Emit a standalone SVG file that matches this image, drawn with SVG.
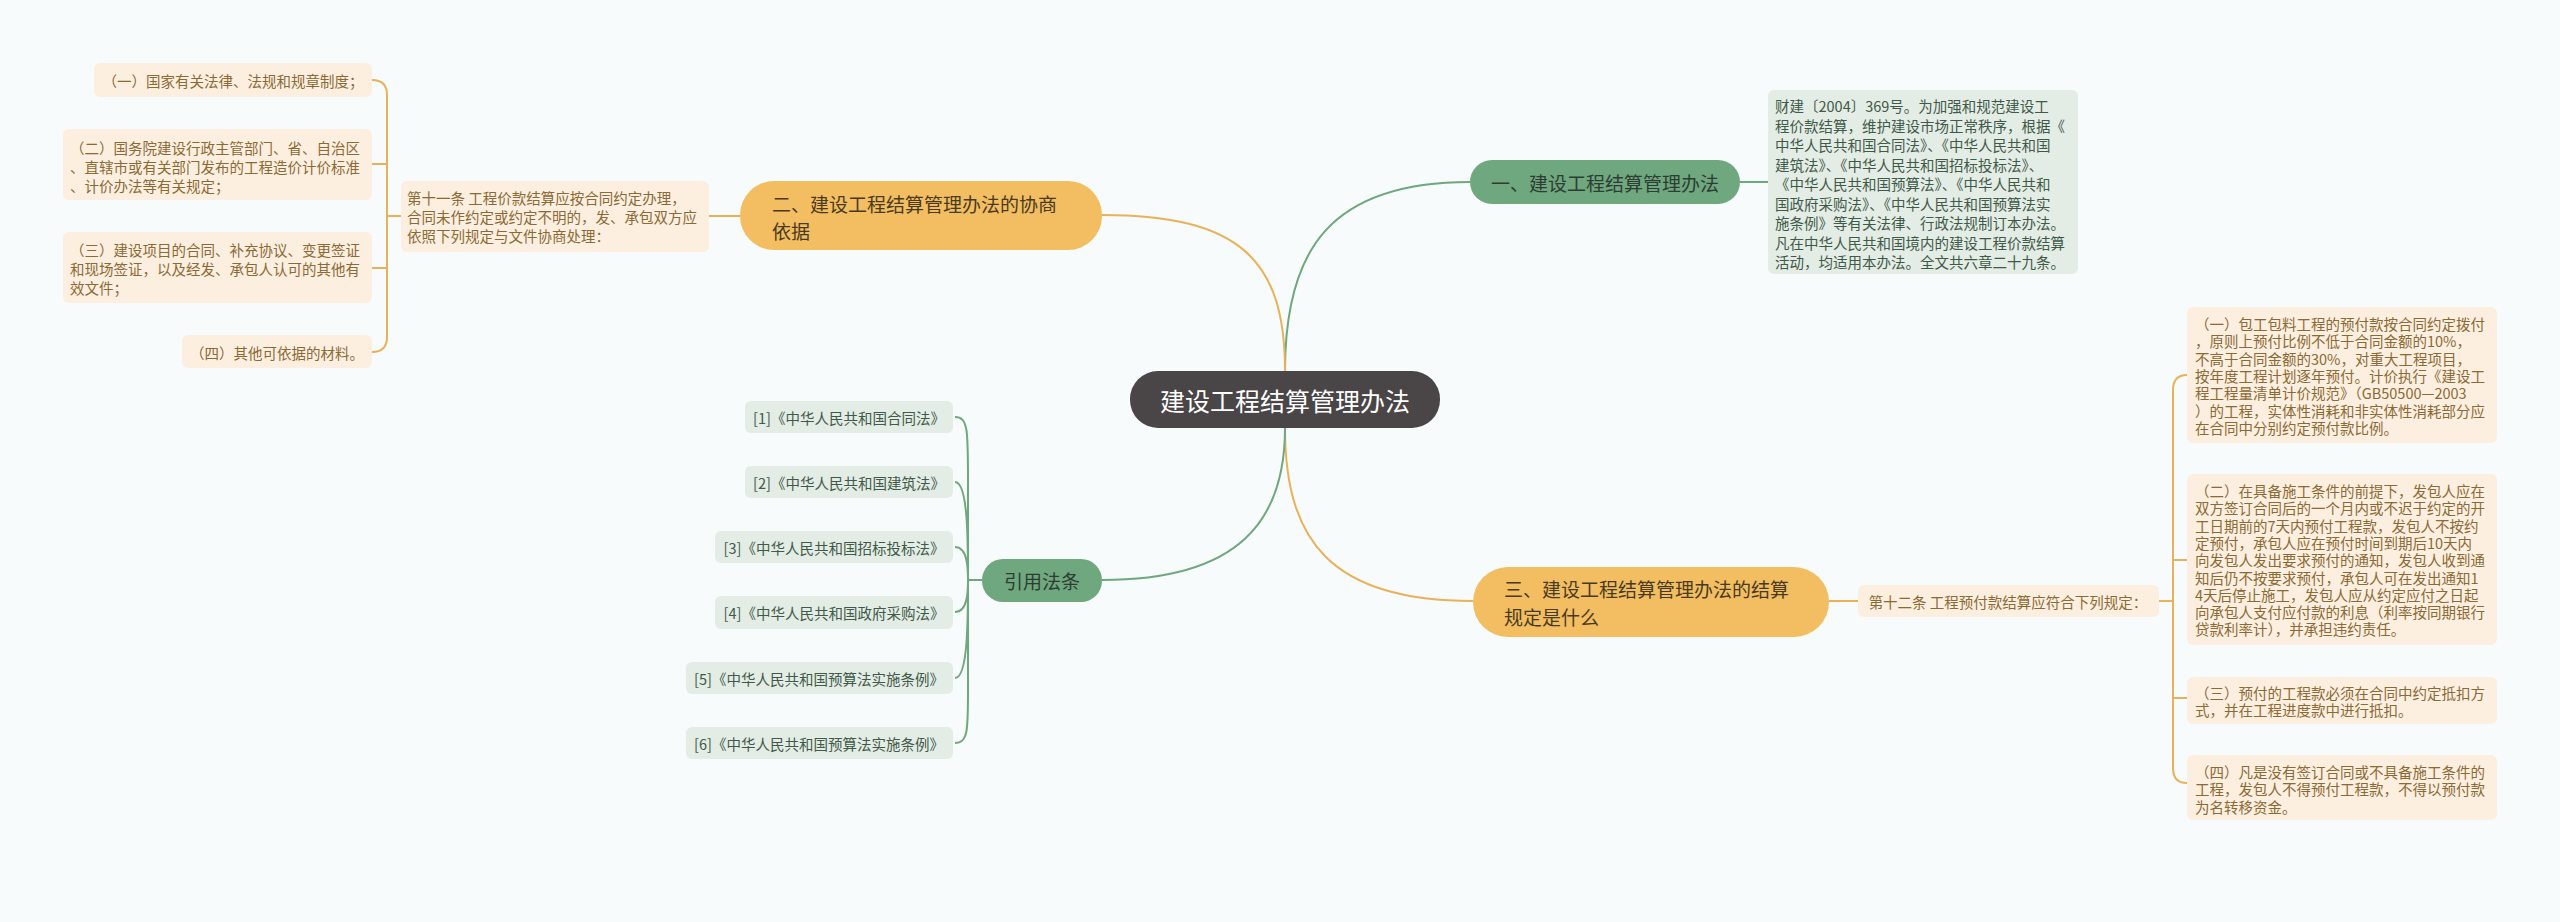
<svg xmlns="http://www.w3.org/2000/svg" width="2560" height="922" viewBox="0 0 2560 922">
<style>
text{font-family:"Noto Sans CJK SC","Noto Sans",sans-serif;dominant-baseline:central}
.s{font-size:14.5px}
.g{fill:#3f5a48}
.o{fill:#8a6a35}
.bg{fill:#e3ece5}
.bo{fill:#fcefe0}
.lg{fill:none;stroke:#6fa77f;stroke-width:2}
.lo{fill:none;stroke:#e9b25a;stroke-width:2}
</style>
<rect width="2560" height="922" fill="#f7fbfb"/>
<g id="connectors">
<path class="lg" d="M1285,371 C1285,250 1330,182 1470,182"/>
<path class="lo" d="M1285,371 C1285,260 1240,215 1102,215"/>
<path class="lo" d="M1285,428 C1285,540 1330,601 1473,601"/>
<path class="lg" d="M1285,428 C1285,520 1240,580 1102,580"/>
<path class="lg" d="M1740,182 L1768,182"/>
<path class="lo" d="M740,216 L709,216"/>
<path class="lo" d="M401,216 L387,216 M372,80 Q387,80 387,95 L387,337 Q387,352 372,352 M387,164 Q387,164 372,164 M387,268 L372,268"/>
<path class="lo" d="M1829,601 L1858,601"/>
<path class="lo" d="M2159,601 L2173,601 M2187,375 Q2173,375 2173,390 L2173,768 Q2173,783 2187,783 M2173,560 L2187,560 M2173,698 L2187,698"/>
<path class="lg" d="M982,580 L968,580 M955,417 C968,417 968,430 968,480 L968,690 C968,730 968,743 955,743 M955,482 C968,482 968,540 968,580 M955,547 C968,547 968,570 968,580 M955,612 C968,612 968,590 968,580 M955,678 C968,678 968,620 968,580"/>
</g>
<g id="center"><rect x="1130" y="371" width="310" height="57" rx="28" fill="#4a4546"/><text x="1285" y="400" font-size="25" fill="#fff" text-anchor="middle">建设工程结算管理办法</text></g>
<g id="b1"><rect x="1470" y="160" width="270" height="44" rx="22" fill="#6fa77f"/><text x="1605" y="182" font-size="19" fill="#2e3d33" text-anchor="middle">一、建设工程结算管理办法</text></g>
<g id="b1c"><rect class="bg" x="1768" y="90" width="310" height="184" rx="6"/>
<text class="s g" x="1775"><tspan x="1775" y="105">财建〔2004〕369号。为加强和规范建设工</tspan><tspan x="1775" y="124.5">程价款结算，维护建设市场正常秩序，根据《</tspan><tspan x="1775" y="144">中华人民共和国合同法》、《中华人民共和国</tspan><tspan x="1775" y="163.5">建筑法》、《中华人民共和国招标投标法》、</tspan><tspan x="1775" y="183">《中华人民共和国预算法》、《中华人民共和</tspan><tspan x="1775" y="202.5">国政府采购法》、《中华人民共和国预算法实</tspan><tspan x="1775" y="222">施条例》等有关法律、行政法规制订本办法。</tspan><tspan x="1775" y="241.5">凡在中华人民共和国境内的建设工程价款结算</tspan><tspan x="1775" y="261">活动，均适用本办法。全文共六章二十九条。</tspan></text></g>
<g id="b2"><rect x="740" y="181" width="362" height="69" rx="34" fill="#f2be61"/><text font-size="19" fill="#4a3a20"><tspan x="772" y="203">二、建设工程结算管理办法的协商</tspan><tspan x="772" y="230">依据</tspan></text></g>
<g id="b2c"><rect class="bo" x="401" y="181" width="308" height="71" rx="6"/><text class="s o"><tspan x="407" y="197">第十一条 工程价款结算应按合同约定办理，</tspan><tspan x="407" y="216">合同未作约定或约定不明的，发、承包双方应</tspan><tspan x="407" y="235">依照下列规定与文件协商处理：</tspan></text></g>
<g id="b2c1"><rect class="bo" x="94" y="63" width="278" height="34" rx="6"/><text class="s o" x="233" y="80" text-anchor="middle">（一）国家有关法律、法规和规章制度；</text></g>
<g id="b2c2"><rect class="bo" x="63" y="129" width="309" height="71" rx="6"/><text class="s o"><tspan x="70" y="147">（二）国务院建设行政主管部门、省、自治区</tspan><tspan x="70" y="166">、直辖市或有关部门发布的工程造价计价标准</tspan><tspan x="70" y="185">、计价办法等有关规定；</tspan></text></g>
<g id="b2c3"><rect class="bo" x="63" y="232" width="309" height="71" rx="6"/><text class="s o"><tspan x="70" y="249">（三）建设项目的合同、补充协议、变更签证</tspan><tspan x="70" y="268">和现场签证，以及经发、承包人认可的其他有</tspan><tspan x="70" y="287">效文件；</tspan></text></g>
<g id="b2c4"><rect class="bo" x="182" y="335" width="190" height="33" rx="6"/><text class="s o" x="277" y="352" text-anchor="middle">（四）其他可依据的材料。</text></g>
<g id="b3"><rect x="1473" y="567" width="356" height="70" rx="35" fill="#f2be61"/><text font-size="19" fill="#4a3a20"><tspan x="1504" y="588">三、建设工程结算管理办法的结算</tspan><tspan x="1504" y="616">规定是什么</tspan></text></g>
<g id="b3c"><rect class="bo" x="1858" y="585" width="301" height="32" rx="6"/><text class="s o" x="2008" y="601" text-anchor="middle">第十二条 工程预付款结算应符合下列规定：</text></g>
<g id="b3c1"><rect class="bo" x="2187" y="307" width="310" height="136" rx="6"/><text class="s o"><tspan x="2195" y="323">（一）包工包料工程的预付款按合同约定拨付</tspan><tspan x="2195" y="340.3">，原则上预付比例不低于合同金额的10%，</tspan><tspan x="2195" y="357.6">不高于合同金额的30%，对重大工程项目，</tspan><tspan x="2195" y="374.9">按年度工程计划逐年预付。计价执行《建设工</tspan><tspan x="2195" y="392.2">程工程量清单计价规范》（GB50500—2003</tspan><tspan x="2195" y="409.5">）的工程，实体性消耗和非实体性消耗部分应</tspan><tspan x="2195" y="426.8">在合同中分别约定预付款比例。</tspan></text></g>
<g id="b3c2"><rect class="bo" x="2187" y="474" width="310" height="171" rx="6"/><text class="s o"><tspan x="2195" y="490">（二）在具备施工条件的前提下，发包人应在</tspan><tspan x="2195" y="507.3">双方签订合同后的一个月内或不迟于约定的开</tspan><tspan x="2195" y="524.6">工日期前的7天内预付工程款，发包人不按约</tspan><tspan x="2195" y="541.9">定预付，承包人应在预付时间到期后10天内</tspan><tspan x="2195" y="559.2">向发包人发出要求预付的通知，发包人收到通</tspan><tspan x="2195" y="576.5">知后仍不按要求预付，承包人可在发出通知1</tspan><tspan x="2195" y="593.8">4天后停止施工，发包人应从约定应付之日起</tspan><tspan x="2195" y="611.1">向承包人支付应付款的利息（利率按同期银行</tspan><tspan x="2195" y="628.4">贷款利率计），并承担违约责任。</tspan></text></g>
<g id="b3c3"><rect class="bo" x="2187" y="677" width="310" height="47" rx="6"/><text class="s o"><tspan x="2195" y="692">（三）预付的工程款必须在合同中约定抵扣方</tspan><tspan x="2195" y="709.3">式，并在工程进度款中进行抵扣。</tspan></text></g>
<g id="b3c4"><rect class="bo" x="2187" y="755" width="310" height="65" rx="6"/><text class="s o"><tspan x="2195" y="771">（四）凡是没有签订合同或不具备施工条件的</tspan><tspan x="2195" y="788.3">工程，发包人不得预付工程款，不得以预付款</tspan><tspan x="2195" y="805.6">为名转移资金。</tspan></text></g>
<g id="b4"><rect x="982" y="559" width="120" height="43" rx="21" fill="#6fa77f"/><text x="1042" y="580" font-size="19" fill="#2e3d33" text-anchor="middle">引用法条</text></g>
<g id="r1"><rect class="bg" x="745" y="401" width="208" height="32" rx="6"/><text class="s g" x="849" y="417" text-anchor="middle">[1]《中华人民共和国合同法》</text></g>
<g id="r2"><rect class="bg" x="745" y="466" width="208" height="32" rx="6"/><text class="s g" x="849" y="482" text-anchor="middle">[2]《中华人民共和国建筑法》</text></g>
<g id="r3"><rect class="bg" x="715" y="531" width="238" height="32" rx="6"/><text class="s g" x="834" y="547" text-anchor="middle">[3]《中华人民共和国招标投标法》</text></g>
<g id="r4"><rect class="bg" x="715" y="596" width="238" height="33" rx="6"/><text class="s g" x="834" y="612" text-anchor="middle">[4]《中华人民共和国政府采购法》</text></g>
<g id="r5"><rect class="bg" x="686" y="662" width="267" height="32" rx="6"/><text class="s g" x="819" y="678" text-anchor="middle">[5]《中华人民共和国预算法实施条例》</text></g>
<g id="r6"><rect class="bg" x="686" y="727" width="267" height="32" rx="6"/><text class="s g" x="819" y="743" text-anchor="middle">[6]《中华人民共和国预算法实施条例》</text></g>
</svg>
